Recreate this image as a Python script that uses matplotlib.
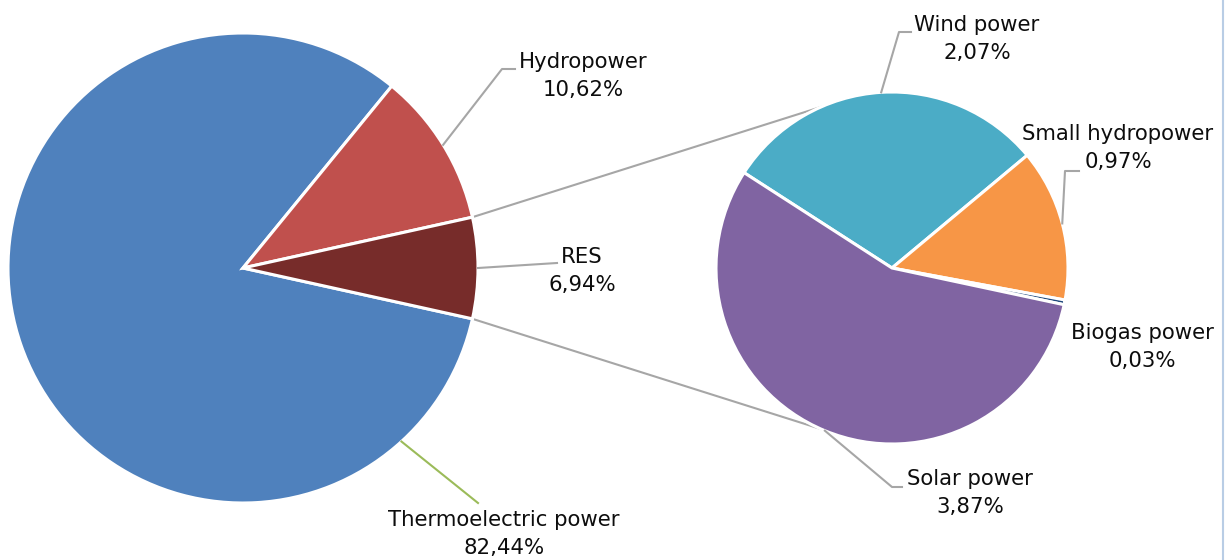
import numpy as np
import matplotlib.pyplot as plt
from matplotlib.lines import Line2D

W, H = 1227, 560

main_labels = ['Thermoelectric power', 'Hydropower', 'RES']
main_values = [82.44, 10.62, 6.94]
main_colors = ['#4f81bd', '#c0504d', '#772c2a']

res_labels = ['Wind power', 'Small hydropower', 'Biogas power', 'Solar power']
res_values = [2.07, 0.97, 0.03, 3.87]
res_colors = ['#4bacc6', '#f79646', '#1f497d', '#8064a2']

# pie geometry in pixel units (y measured from the top)
left_c, left_r = (243, 268), 235
right_c, right_r = (892, 268), 176
right_start = 147.2
link_angle = 113.8

# label layout: text centre, leader elbow/end points (None = no leader), leader angle override
label_pos = {
    'Thermoelectric power': ((504, 534), [(478, 503)], -47.6),
    'Hydropower': ((583, 76), [(502, 69), (515, 69)], None),
    'RES': ((582, 271), [(557, 263)], None),
    'Wind power': ((977, 39), [(899, 32), (911, 32)], None),
    'Small hydropower': ((1118, 148), [(1065, 171), (1079, 171)], None),
    'Biogas power': ((1142, 347), None, None),
    'Solar power': ((970, 493), [(892, 487), (902, 487)], None),
}


def fy(y):
    return H - y


def fmt(v):
    return ('%.2f%%' % v).replace('.', ',')


fig = plt.figure(figsize=(W / 100, H / 100), dpi=100)
ax = fig.add_axes([0, 0, 1, 1])

main_start = -main_values[2] / 2 / sum(main_values) * 360
left_wedges, _ = ax.pie(main_values, colors=main_colors, startangle=main_start,
                        counterclock=False, radius=left_r,
                        center=(left_c[0], fy(left_c[1])),
                        wedgeprops=dict(edgecolor='white', linewidth=2.2))
right_wedges, _ = ax.pie(res_values, colors=res_colors, startangle=right_start,
                         counterclock=False, radius=right_r,
                         center=(right_c[0], fy(right_c[1])),
                         wedgeprops=dict(edgecolor='white', linewidth=2.2))


def edge_point(c, r, ang):
    a = np.radians(ang)
    return c[0] + r * np.cos(a), fy(c[1]) + r * np.sin(a)


# connector lines between RES slice and the secondary pie
res_w = left_wedges[2]
for ang_l, ang_r in [(res_w.theta2, link_angle), (res_w.theta1, -link_angle)]:
    x0, y0 = edge_point(left_c, left_r, ang_l)
    x1, y1 = edge_point(right_c, right_r, ang_r)
    ax.plot([x0, x1], [y0, y1], color='#a6a6a6', lw=1.5, zorder=0)


def add_labels(labels, values, wedges, c, r):
    for lab, val, w in zip(labels, values, wedges):
        (tx, ty), pts, ang = label_pos[lab]
        if pts is not None:
            if ang is None:
                ang = (w.theta1 + w.theta2) / 2
            x0, y0 = edge_point(c, r, ang)
            xs = [x0] + [p[0] for p in pts]
            ys = [y0] + [fy(p[1]) for p in pts]
            col = '#9bbb59' if lab == 'Thermoelectric power' else '#a6a6a6'
            ax.plot(xs, ys, color=col, lw=1.5)
        ax.text(tx, fy(ty), lab + '\n' + fmt(val), ha='center', va='center',
                fontsize=15.3, color='#0d0d0d', family='DejaVu Sans',
                linespacing=1.5)


add_labels(main_labels, main_values, left_wedges, left_c, left_r)
add_labels(res_labels, res_values, right_wedges, right_c, right_r)

ax.set_xlim(0, W)
ax.set_ylim(0, H)
ax.set_aspect('equal')
ax.axis('off')

fig.add_artist(Line2D([1222.5 / W] * 2, [0, 1], color='#b9cde5', lw=1.5,
                      transform=fig.transFigure))

fig.savefig('out.png', dpi=100, facecolor='white')
